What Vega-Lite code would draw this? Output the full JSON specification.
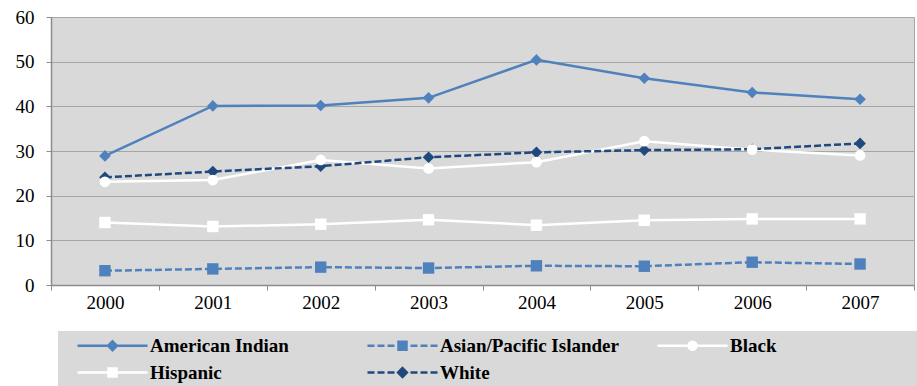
{
  "$schema": "https://vega.github.io/schema/vega-lite/v6.json",
  "width": 863,
  "height": 268,
  "autosize": {"type": "none"},
  "padding": {"left": 51, "top": 17, "right": 3, "bottom": 101},
  "background": "#ffffff",
  "config": {
    "view": {"fill": "#d9d9d9", "stroke": "#a6a6a6", "strokeWidth": 1},
    "font": "Liberation Serif"
  },
  "data": {
    "values": [
      {"year": "2000", "series": "American Indian", "rate": 28.9},
      {"year": "2001", "series": "American Indian", "rate": 40.1},
      {"year": "2002", "series": "American Indian", "rate": 40.2},
      {"year": "2003", "series": "American Indian", "rate": 41.9},
      {"year": "2004", "series": "American Indian", "rate": 50.4},
      {"year": "2005", "series": "American Indian", "rate": 46.3},
      {"year": "2006", "series": "American Indian", "rate": 43.1},
      {"year": "2007", "series": "American Indian", "rate": 41.6},
      {"year": "2000", "series": "Asian/Pacific Islander", "rate": 3.2},
      {"year": "2001", "series": "Asian/Pacific Islander", "rate": 3.6},
      {"year": "2002", "series": "Asian/Pacific Islander", "rate": 4.0},
      {"year": "2003", "series": "Asian/Pacific Islander", "rate": 3.8},
      {"year": "2004", "series": "Asian/Pacific Islander", "rate": 4.3},
      {"year": "2005", "series": "Asian/Pacific Islander", "rate": 4.2},
      {"year": "2006", "series": "Asian/Pacific Islander", "rate": 5.1},
      {"year": "2007", "series": "Asian/Pacific Islander", "rate": 4.7},
      {"year": "2000", "series": "Black", "rate": 23.1},
      {"year": "2001", "series": "Black", "rate": 23.5},
      {"year": "2002", "series": "Black", "rate": 28.0},
      {"year": "2003", "series": "Black", "rate": 26.1},
      {"year": "2004", "series": "Black", "rate": 27.5},
      {"year": "2005", "series": "Black", "rate": 32.2},
      {"year": "2006", "series": "Black", "rate": 30.3},
      {"year": "2007", "series": "Black", "rate": 29.0},
      {"year": "2000", "series": "Hispanic", "rate": 14.0},
      {"year": "2001", "series": "Hispanic", "rate": 13.1},
      {"year": "2002", "series": "Hispanic", "rate": 13.6},
      {"year": "2003", "series": "Hispanic", "rate": 14.6},
      {"year": "2004", "series": "Hispanic", "rate": 13.4},
      {"year": "2005", "series": "Hispanic", "rate": 14.5},
      {"year": "2006", "series": "Hispanic", "rate": 14.8},
      {"year": "2007", "series": "Hispanic", "rate": 14.8},
      {"year": "2000", "series": "White", "rate": 24.1},
      {"year": "2001", "series": "White", "rate": 25.4},
      {"year": "2002", "series": "White", "rate": 26.6},
      {"year": "2003", "series": "White", "rate": 28.6},
      {"year": "2004", "series": "White", "rate": 29.7},
      {"year": "2005", "series": "White", "rate": 30.2},
      {"year": "2006", "series": "White", "rate": 30.4},
      {"year": "2007", "series": "White", "rate": 31.7}
    ]
  },
  "encoding": {
    "x": {
      "field": "year",
      "type": "ordinal",
      "scale": {"type": "band", "paddingInner": 0, "paddingOuter": 0},
      "axis": {
        "title": null,
        "labelAngle": 0,
        "tickBand": "extent",
        "grid": false,
        "domainColor": "#8c8c8c",
        "domainWidth": 1.5,
        "tickColor": "#8c8c8c",
        "tickSize": 5,
        "labelPadding": 3,
        "labelFont": "Liberation Serif",
        "labelFontSize": 19,
        "labelColor": "#000000"
      }
    },
    "y": {
      "field": "rate",
      "type": "quantitative",
      "scale": {"domain": [0, 60], "nice": false},
      "axis": {
        "title": null,
        "values": [0, 10, 20, 30, 40, 50, 60],
        "grid": true,
        "gridColor": "#a6a6a6",
        "gridWidth": 1,
        "domainColor": "#8c8c8c",
        "domainWidth": 1.5,
        "tickColor": "#8c8c8c",
        "tickSize": 5,
        "labelPadding": 12,
        "labelFont": "Liberation Serif",
        "labelFontSize": 19,
        "labelColor": "#000000"
      }
    },
    "color": {
      "field": "series",
      "type": "nominal",
      "scale": {
        "domain": ["American Indian", "Asian/Pacific Islander", "Black", "Hispanic", "White"],
        "range": ["#4f81bd", "#4f81bd", "#ffffff", "#ffffff", "#1f497d"]
      },
      "legend": {
        "orient": "none",
        "legendX": 7,
        "legendY": 314,
        "direction": "horizontal",
        "columns": 3,
        "gridAlign": "all",
        "title": null,
        "fillColor": "#d9d9d9",
        "padding": 5,
        "columnPadding": 15,
        "rowPadding": 7,
        "symbolSize": 64,
        "symbolStrokeWidth": 2.5,
        "labelOffset": 68,
        "labelFont": "Liberation Serif",
        "labelFontWeight": "bold",
        "labelFontSize": 19,
        "labelColor": "#000000",
        "labelLimit": 400,
        "encode": {
          "symbols": {
            "update": {
              "shape": [
                {"test": "datum.value === 'American Indian'", "value": "M1.25,0H18.75M10,-1.1L11.1,0L10,1.1L8.9,0ZM65,0"},
                {"test": "datum.value === 'Asian/Pacific Islander'", "value": "M1.25,0H3M3.75,0H5.5M6.25,0H8M12,0H13.75M14.5,0H16.25M17,0H18.75M9,-1H11V1H9ZM65,0"},
                {"test": "datum.value === 'Black'", "value": "M1.25,0H18.75M9,0A1,1 0 1,0 11,0A1,1 0 1,0 9,0ZM65,0"},
                {"test": "datum.value === 'Hispanic'", "value": "M1.25,0H18.75M9,-1H11V1H9ZM65,0"},
                {"value": "M1.25,0H3M3.75,0H5.5M6.25,0H8M12,0H13.75M14.5,0H16.25M17,0H18.75M10,-1.1L11.1,0L10,1.1L8.9,0ZM65,0"}
              ],
              "fill": {"scale": "color", "field": "value"},
              "stroke": {"scale": "color", "field": "value"},
              "strokeDash": {"value": []},
              "strokeWidth": {"value": 2.5},
              "opacity": {"value": 1}
            }
          }
        }
      }
    }
  },
  "layer": [
    {
      "transform": [{"filter": {"field": "series", "oneOf": ["American Indian", "Black", "Hispanic"]}}],
      "mark": {"type": "line", "strokeWidth": 2.5}
    },
    {
      "transform": [{"filter": {"field": "series", "oneOf": ["Asian/Pacific Islander", "White"]}}],
      "mark": {"type": "line", "strokeWidth": 2.5, "strokeDash": [7, 3]}
    },
    {
      "transform": [{"filter": {"field": "series", "oneOf": ["American Indian", "White"]}}],
      "mark": {"type": "point", "filled": true, "opacity": 1, "shape": "diamond", "size": 135}
    },
    {
      "transform": [{"filter": {"field": "series", "oneOf": ["Asian/Pacific Islander", "Hispanic"]}}],
      "mark": {"type": "point", "filled": true, "opacity": 1, "shape": "square", "size": 130}
    },
    {
      "transform": [{"filter": {"field": "series", "equal": "Black"}}],
      "mark": {"type": "point", "filled": true, "opacity": 1, "shape": "circle", "size": 115}
    }
  ]
}
